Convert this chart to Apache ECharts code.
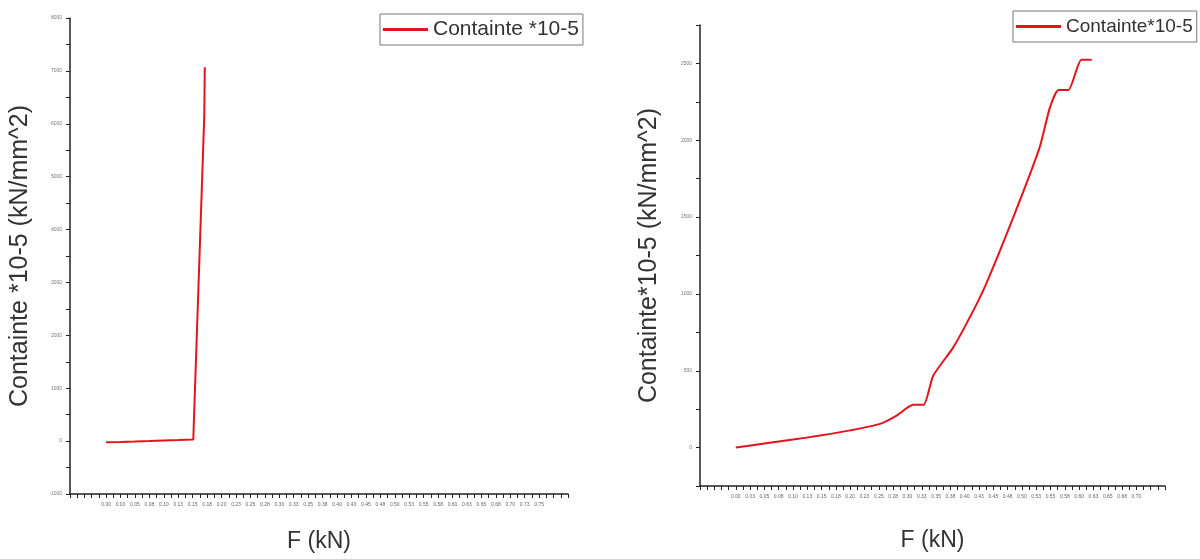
<!DOCTYPE html>
<html>
<head>
<meta charset="utf-8">
<script src="https://cdn.jsdelivr.net/npm/echarts@6/dist/echarts.min.js"></script>
<style>html,body{margin:0;padding:0;background:#fff}#c{width:1200px;height:559px}</style>
</head>
<body>
<div id="c"></div>
<script>
// Left chart data: F (kN) vs Containte *10-5
const leftF =      [0, 0.025, 0.05, 0.075, 0.1, 0.125, 0.151, 0.170, 0.171];
const leftStress = [-20, -15, -8, 0, 10, 20, 32, 6130, 7070];
// Right chart data: F (kN) vs Containte*10-5
const rightF =      [0, 0.05, 0.1, 0.147, 0.2, 0.252, 0.281, 0.310, 0.328, 0.345, 0.380, 0.415, 0.440, 0.485, 0.531, 0.549, 0.564, 0.581, 0.604, 0.622];
const rightStress = [0, 27, 52, 78, 112, 154, 208, 278, 278, 468, 652, 891, 1087, 1499, 1954, 2214, 2327, 2327, 2524, 2524];
const leftName = 'Containte *10-5';
const rightName = 'Containte*10-5';
const yTitleLeft = 'Containte *10-5 (kN/mm^2)';
const yTitleRight = 'Containte*10-5 (kN/mm^2)';
const xTitle = 'F (kN)';

const FONT = 'Liberation Sans, Arial, sans-serif';
const RED = '#e3141b';

function xLabel(v, maxLab) {
  const k = Math.round(v / 0.025);
  if (Math.abs(k * 0.025 - v) > 1e-6) return '';
  if (v < -1e-9 || v > maxLab + 1e-9) return '';
  return (k * 0.025).toFixed(2);
}
function yLabel(v, step) {
  const k = Math.round(v / step);
  if (Math.abs(k * step - v) > 1e-6) return '';
  return String(Math.round(v));
}
function xAxisCfg(gi, min, max, maxLab, gap) {
  return {
    type: 'value', gridIndex: gi, min: min, max: max, interval: 0.0125,
    splitLine: {show: false},
    axisLine: {onZero: false, lineStyle: {color: '#222', width: 1.5}},
    axisTick: {show: true, length: 4, lineStyle: {color: '#222'}},
    axisLabel: {fontSize: 5, color: '#666', margin: 8, fontFamily: FONT,
      formatter: v => xLabel(v, maxLab)},
    name: xTitle, nameLocation: 'middle', nameGap: gap,
    nameTextStyle: {fontSize: 23, color: '#333', fontFamily: FONT}
  };
}
function yAxisCfg(gi, min, max, interval, labStep, title, gap) {
  return {
    type: 'value', gridIndex: gi, min: min, max: max, interval: interval,
    splitLine: {show: false},
    axisLine: {show: true, onZero: false, lineStyle: {color: '#222', width: 1.5}},
    axisTick: {show: true, length: 4, lineStyle: {color: '#222'}},
    axisLabel: {fontSize: 5, color: '#777', margin: 8, fontFamily: FONT,
      formatter: v => yLabel(v, labStep)},
    name: title, nameLocation: 'middle', nameGap: gap, nameRotate: 90,
    nameTextStyle: {fontSize: 25, color: '#333', fontFamily: FONT}
  };
}

const chart = echarts.init(document.getElementById('c'), null, {renderer: 'canvas'});
chart.setOption({
  backgroundColor: '#fff',
  animation: false,
  grid: [
    {left: 70, top: 18, width: 498, height: 476},
    {left: 700, top: 25, width: 465, height: 461}
  ],
  legend: [
    {data: [leftName], left: 380, top: 14, orient: 'horizontal',
     icon: 'rect', itemWidth: 45, itemHeight: 3, itemGap: 5,
     padding: [5, 4, 5, 3], borderColor: '#777', borderWidth: 1,
     textStyle: {fontSize: 21, color: '#333', fontFamily: FONT}},
    {data: [rightName], left: 1013, top: 11, orient: 'horizontal',
     icon: 'rect', itemWidth: 45, itemHeight: 3, itemGap: 5,
     padding: [6, 4, 6, 3], borderColor: '#777', borderWidth: 1,
     textStyle: {fontSize: 19, color: '#333', fontFamily: FONT}}
  ],
  xAxis: [
    xAxisCfg(0, -0.0625, 0.8, 0.75, 36),
    xAxisCfg(1, -0.0625, 0.75, 0.7, 43)
  ],
  yAxis: [
    yAxisCfg(0, -1000, 8000, 500, 1000, yTitleLeft, 37),
    yAxisCfg(1, -250, 2750, 250, 500, yTitleRight, 38)
  ],
  series: [
    {name: leftName, type: 'line', xAxisIndex: 0, yAxisIndex: 0,
     data: leftF.map((f, i) => [f, leftStress[i]]),
     showSymbol: false, symbol: 'none', color: RED,
     lineStyle: {color: RED, width: 2}},
    {name: rightName, type: 'line', xAxisIndex: 1, yAxisIndex: 1,
     data: rightF.map((f, i) => [f, rightStress[i]]),
     showSymbol: false, symbol: 'none', color: RED, smooth: 0.2,
     lineStyle: {color: RED, width: 2}}
  ]
});
</script>
</body>
</html>
